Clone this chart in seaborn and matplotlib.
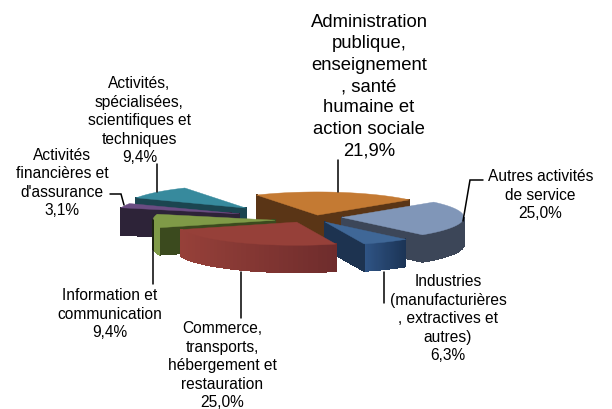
import numpy as np
import pandas as pd
import seaborn as sns
import matplotlib.pyplot as plt
from matplotlib.colors import to_rgb
from matplotlib.patches import Polygon

# data
secteurs = ["Administration\npublique,\nenseignement\n, santé\nhumaine et\naction sociale",
            "Autres activités\nde service",
            "Industries\n(manufacturières\n, extractives et\nautres)",
            "Commerce,\ntransports,\nhébergement et\nrestauration",
            "Information et\ncommunication",
            "Activités\nfinancières et\nd'assurance",
            "Activités,\nspécialisées,\nscientifiques et\ntechniques"]
parts = [21.9, 25.0, 6.3, 25.0, 9.4, 3.1, 9.4]

# style
top_cols = ["#C47A33", "#8096B8", "#3F6797", "#964039", "#7F9A47", "#6A4C82", "#378A9D"]
wall_cols = ["#5A3516", "#3C4658", "#1D3350", "#8A3A36", "#3B4A1E", "#2D2338", "#1B4550"]
arc_left = ["#5A3516", "#3C4658", "#2F5485", "#964039", "#7F9A47", "#2D2338", "#1B4550"]
arc_right = ["#5A3516", "#3C4658", "#1B3354", "#6E2C2C", "#7F9A47", "#2D2338", "#1B4550"]
explode = [10, 32, 30, 30, 36, 78, 92]
nudge_x = [6, 0, 0, 0, 1, 2, 3]
nudge_y = [0, 0, 0, 0, 3, 2, 3]
draw_order = [0, 6, 5, 4, 1, 2, 3]
cx, cy = 310, 217
rayon, tilt, depth = 122, 0.19, 27
start = 120

# label x, y of first line, font size, line spacing
labels = [(369, 14, 13.3, 1.335), (540.5, 169, 11.2, 1.3), (448, 274, 11.2, 1.3),
          (222.5, 321, 11.2, 1.3), (110, 288, 11.2, 1.3), (62, 147.5, 11.2, 1.3), (139.5, 76, 11.2, 1.3)]
leaders = [([338, 338], [160, 192]), ([483, 470, 463], [180, 180, 221]), ([384, 384], [272, 303]),
           ([241, 241], [272, 318]), ([153, 153], [220, 284]), ([110, 121, 124], [194, 194, 205]),
           ([157, 157], [164, 192])]

sns.set_theme(style="white")
plt.rcParams['font.family'] = ['Liberation Sans', 'DejaVu Sans']
fig = plt.figure(figsize=(6.12, 4.09), dpi=100)
ax = fig.add_axes([0, 0, 1, 1])
ax.set_xlim(0, 612)
ax.set_ylim(409, 0)
ax.axis('off')

df = pd.DataFrame({"secteur": secteurs, "part": parts})
df["angle"] = df["part"] / df["part"].sum() * 360
df["fin"] = start - df["angle"].cumsum()
df["debut"] = df["fin"] + df["angle"]


def mix(a, b, t):
    return tuple((1 - t) * np.array(to_rgb(a)) + t * np.array(to_rgb(b)))


def wedge(i):
    row = df.iloc[i]
    mid = np.radians((row["debut"] + row["fin"]) / 2)
    ox = cx + explode[i] * np.cos(mid) + nudge_x[i]
    oy = cy - explode[i] * np.sin(mid) * tilt + nudge_y[i]
    th = np.radians(np.linspace(row["debut"], row["fin"], 40))
    xs = ox + rayon * np.cos(th)
    ys = oy - rayon * np.sin(th) * tilt
    return np.column_stack([np.r_[ox, xs], np.r_[oy, ys]])


for z, i in enumerate(draw_order):
    pts = wedge(i)
    n = len(pts)
    xmin, xmax = pts[1:, 0].min(), pts[1:, 0].max()
    for k in range(n):
        p, q = pts[k], pts[(k + 1) % n]
        # clockwise on screen: edges running right to left face us
        if q[0] >= p[0]:
            continue
        if k == 0 or k == n - 1:
            col = wall_cols[i]
        else:
            col = mix(arc_left[i], arc_right[i], ((p[0] + q[0]) / 2 - xmin) / (xmax - xmin))
        quad = [p, q, q + [0, depth], p + [0, depth]]
        # no antialiasing here, it leaves stripes between the strips
        ax.add_patch(Polygon(quad, closed=True, fc=col, ec=col, lw=0.6, antialiased=False, zorder=z * 2 + 2))
    ax.add_patch(Polygon(pts, closed=True, fc=top_cols[i], ec=top_cols[i], lw=0.3, zorder=z * 2 + 3))

for i, row in df.iterrows():
    x, y, fs, sp = labels[i]
    txt = row["secteur"] + "\n" + f"{row['part']:.1f}".replace(".", ",") + "%"
    ax.text(x, y, txt, ha='center', va='top', fontsize=fs, linespacing=sp, color='black', zorder=30)
    ax.plot(leaders[i][0], leaders[i][1], color='black', lw=1.1, zorder=25, solid_joinstyle='miter')

fig.savefig('out.png', dpi=100)
